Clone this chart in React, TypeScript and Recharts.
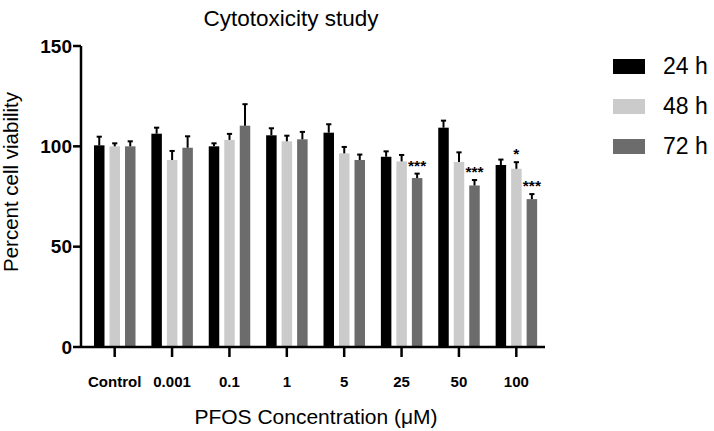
import React from "react";
import { BarChart, Bar, XAxis, YAxis } from "recharts";

const categories = ["Control", "0.001", "0.1", "1", "5", "25", "50", "100"];

// mean viability (%) and SEM
const mean24 = [100.5, 106.3, 100, 105.5, 106.8, 94.8, 109.3, 90.7];
const err24 = [4.3, 3, 1.5, 3.5, 4.2, 2.7, 3.5, 2.7];
const mean48 = [100, 93.2, 103.2, 102.5, 96.5, 92.5, 92.2, 88.8];
const err48 = [1.5, 4.5, 3, 2.8, 3.2, 3.2, 4.8, 3.3];
const mean72 = [100, 99.3, 110.3, 103.5, 93.2, 84.2, 80.5, 73.7];
const err72 = [2.5, 5.7, 10.7, 3.7, 2.7, 2.2, 2.7, 2.5];

const sig24 = ["", "", "", "", "", "", "", ""];
const sig48 = ["", "", "", "", "", "", "", "*"];
const sig72 = ["", "", "", "", "", "***", "***", "***"];

const yTicks = [0, 50, 100, 150];

const series = [
  { key: "h24", name: "24 h", color: "#000000", mean: mean24, err: err24, sig: sig24 },
  { key: "h48", name: "48 h", color: "#cbcbcb", mean: mean48, err: err48, sig: sig48 },
  { key: "h72", name: "72 h", color: "#6c6c6c", mean: mean72, err: err72, sig: sig72 },
];

const data = categories.map((c, i) => {
  const row: any = { name: c };
  series.forEach((s) => {
    row[s.key] = s.mean[i];
    row[s.key + "_err"] = s.err[i];
    row[s.key + "_sig"] = s.sig[i];
  });
  return row;
});

const FONT = "Arial, 'Liberation Sans', sans-serif";

// bar with a one-sided (upper) error bar and significance stars
const makeShape = (key: string, color: string) => (props: any) => {
  const { x, y, width, height, payload } = props;
  const v = payload[key];
  const pxPerUnit = v ? height / v : 0;
  const errTop = y - payload[key + "_err"] * pxPerUnit;
  const cx = x + width / 2;
  const sig = payload[key + "_sig"];
  return (
    <g>
      <rect x={x} y={y} width={width} height={height} fill={color} />
      <line x1={cx} y1={y} x2={cx} y2={errTop} stroke="#000" strokeWidth={2} />
      <line x1={cx - 2.6} y1={errTop} x2={cx + 2.6} y2={errTop} stroke="#000" strokeWidth={2} />
      {sig ? (
        <text x={cx} y={errTop - 3} textAnchor="middle" fontSize={15.5} fontWeight={700} fontFamily={FONT} fill="#000">
          {sig}
        </text>
      ) : null}
    </g>
  );
};

export default function App() {
  return (
    <div style={{ position: "relative", width: 714, height: 431, background: "#fff", overflow: "hidden" }}>
      <style>{"body{margin:0}"}</style>
      <div
        style={{
          position: "absolute",
          left: 0,
          top: 6,
          width: 582,
          textAlign: "center",
          fontFamily: FONT,
          fontSize: 22.5,
          color: "#000",
        }}
      >
        Cytotoxicity study
      </div>

      <BarChart
        width={714}
        height={431}
        data={data}
        margin={{ top: 46, right: 169, bottom: 0, left: 0 }}
        barGap={5}
        barSize={10.5}
      >
        <XAxis
          dataKey="name"
          height={84}
          padding={{ left: 5, right: 0 }}
          axisLine={{ stroke: "#000", strokeWidth: 2.5 }}
          tickLine={{ stroke: "#000", strokeWidth: 2.5 }}
          tickSize={10}
          tickMargin={19}
          interval={0}
          tick={{ fill: "#000", fontSize: 15, fontWeight: 700, fontFamily: FONT }}
        />
        <YAxis
          width={81}
          domain={[0, 150]}
          ticks={yTicks}
          axisLine={{ stroke: "#000", strokeWidth: 2.5 }}
          tickLine={{ stroke: "#000", strokeWidth: 2.5 }}
          tickSize={8}
          tickMargin={1}
          tick={{ fill: "#000", fontSize: 19, fontWeight: 700, fontFamily: FONT }}
        />
        {series.map((s) => (
          <Bar
            key={s.key}
            dataKey={s.key}
            name={s.name}
            fill={s.color}
            shape={makeShape(s.key, s.color)}
            isAnimationActive={false}
          />
        ))}
      </BarChart>

      {/* axis titles */}
      <div
        style={{
          position: "absolute",
          left: 11 - 150,
          top: 182 - 12,
          width: 300,
          lineHeight: "24px",
          textAlign: "center",
          transform: "rotate(-90deg)",
          fontFamily: FONT,
          fontSize: 20.5,
          color: "#000",
          whiteSpace: "nowrap",
        }}
      >
        Percent cell viability
      </div>
      <div
        style={{
          position: "absolute",
          left: 16,
          top: 405,
          width: 600,
          lineHeight: "24px",
          textAlign: "center",
          fontFamily: FONT,
          fontSize: 21,
          color: "#000",
          whiteSpace: "nowrap",
        }}
      >
        PFOS Concentration (μM)
      </div>

      {series.map((s, i) => (
        <div
          key={s.key}
          style={{
            position: "absolute",
            left: 613,
            top: 53 + i * 40,
            display: "flex",
            alignItems: "center",
            fontFamily: FONT,
            fontSize: 23,
            color: "#000",
            height: 26,
          }}
        >
          <span style={{ display: "inline-block", width: 32, height: 15, background: s.color }} />
          <span style={{ marginLeft: 18 }}>{s.name}</span>
        </div>
      ))}
    </div>
  );
}
